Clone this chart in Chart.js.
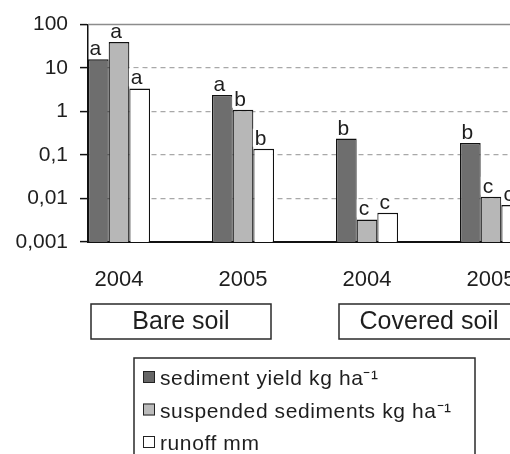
<!DOCTYPE html>
<html>
<head>
<meta charset="utf-8">
<script src="https://cdn.jsdelivr.net/npm/chart.js@4/dist/chart.umd.min.js"></script>
<style>
  html, body { margin: 0; padding: 0; background: #fff; }
  #frame { width: 510px; height: 454px; overflow: hidden; position: relative; }
  canvas { display: block; }
</style>
</head>
<body>
<div id="frame"><canvas id="chart" width="610" height="454"></canvas></div>
<script>
// Years shown under each bar group, and the two treatments that group them
const years = ['2004', '2005', '2004', '2005'];
const treatments = ['Bare soil', 'Covered soil'];

// Series values (log axis)
const sedimentYield      = [16, 2.4, 0.24, 0.19];
const suspendedSediments = [40, 1.1, 0.0033, 0.011];
const runoff             = [3.4, 0.14, 0.0047, 0.0071];

// Significance letters printed above each bar
const sedimentLetters  = ['a', 'a', 'b', 'b'];
const suspendedLetters = ['a', 'b', 'c', 'c'];
const runoffLetters    = ['a', 'b', 'c', 'c'];

// Series names
const seriesNames = ['sediment yield kg ha\u207B\u00B9', 'suspended sediments kg ha\u207B\u00B9', 'runoff mm'];

// Y axis ticks and their labels (decimal comma)
const yTicks      = [0.001, 0.01, 0.1, 1, 10, 100];
const yTickLabels = ['0,001', '0,01', '0,1', '1', '10', '100'];

const FONT = "'Liberation Sans', Arial, sans-serif";
const toPoints = vals => vals.map((v, i) => ({ x: i, y: v }));

// Labels above bars, frame top line, treatment boxes and the legend
const decorations = {
  id: 'decorations',
  afterDatasetsDraw(chart) {
    const { ctx, chartArea: a, scales: { x } } = chart;
    ctx.save();

    // letters over the bars, on a small white backing kept inside the plot
    ctx.font = `21px ${FONT}`;
    ctx.textAlign = 'center';
    ctx.textBaseline = 'alphabetic';
    chart.data.datasets.forEach((ds, di) => {
      chart.getDatasetMeta(di).data.forEach((el, i) => {
        const t = ds.letters[i];
        const tx = el.x - 3, ty = el.y - 4;
        const w = ctx.measureText(t).width;
        const left = Math.max(a.left + 1.5, tx - w / 2 - 2);
        const right = tx + w / 2 + 2;
        ctx.fillStyle = '#fff';
        ctx.fillRect(left, ty - 16, right - left, 18);
        ctx.fillStyle = '#1e1e1e';
        ctx.fillText(t, tx, ty);
      });
    });

    // top frame line
    ctx.strokeStyle = '#8c8c8c';
    ctx.lineWidth = 1.5;
    ctx.beginPath();
    ctx.moveTo(a.left, a.top);
    ctx.lineTo(a.right, a.top);
    ctx.stroke();

    // treatment boxes below the year labels
    ctx.font = `25px ${FONT}`;
    ctx.textBaseline = 'middle';
    ctx.lineWidth = 1.5;
    ctx.strokeStyle = '#2a2a2a';
    treatments.forEach((t, k) => {
      const cx = x.getPixelForValue(2 * k + 0.5);
      const top = a.bottom + 62, h = 35, half = 90;
      ctx.strokeRect(cx - half, top, half * 2, h);
      ctx.fillStyle = '#1e1e1e';
      ctx.fillText(t, cx, top + 18);
    });

    // legend
    const lx = 134, ly = 358, lw = 341;
    ctx.strokeStyle = '#2a2a2a';
    ctx.lineWidth = 1.5;
    ctx.strokeRect(lx, ly, lw, 140);
    ctx.font = `21px ${FONT}`;
    ctx.textAlign = 'left';
    ctx.textBaseline = 'alphabetic';
    if ('letterSpacing' in ctx) ctx.letterSpacing = '0.6px';
    chart.data.datasets.forEach((ds, di) => {
      const base = ly + 27 + di * 32.5;
      ctx.fillStyle = ds.legendFill;
      ctx.fillRect(143, base - 14, 12, 12);
      ctx.lineWidth = 1;
      ctx.strokeStyle = '#222';
      ctx.strokeRect(143.5, base - 13.5, 11, 11);
      ctx.fillStyle = '#1e1e1e';
      ctx.fillText(ds.label, 160, base);
    });
    ctx.restore();
  }
};

new Chart(document.getElementById('chart'), {
  type: 'bar',
  data: {
    datasets: [
      { label: seriesNames[0], data: toPoints(sedimentYield), letters: sedimentLetters,
        backgroundColor: '#6e6e6e', legendFill: '#666666' },
      { label: seriesNames[1], data: toPoints(suspendedSediments), letters: suspendedLetters,
        backgroundColor: '#b7b7b7', legendFill: '#bbbbbb' },
      { label: seriesNames[2], data: toPoints(runoff), letters: runoffLetters,
        backgroundColor: '#ffffff', legendFill: '#ffffff' }
    ]
  },
  options: {
    responsive: false,
    animation: false,
    layout: { padding: { top: 20, left: 0, right: 26, bottom: 0 } },
    datasets: {
      bar: {
        categoryPercentage: 0.5,
        barPercentage: 1,
        borderColor: '#111',
        borderWidth: { top: 1.5, left: 1.2, right: 1.2, bottom: 0 },
        borderSkipped: false
      }
    },
    plugins: { legend: { display: false }, tooltip: { enabled: false } },
    scales: {
      x: {
        type: 'linear',
        offset: false,
        min: -0.25,
        max: 3.75,
        afterBuildTicks: s => { s.ticks = years.map((_, i) => ({ value: i })); },
        afterFit: s => { s.height = 212; },
        grid: { display: false },
        border: { color: '#111', width: 2 },
        ticks: {
          padding: 17,
          autoSkip: false,
          maxRotation: 0,
          color: '#1e1e1e',
          font: { size: 22, family: FONT },
          callback: v => years[v] ?? ''
        }
      },
      y: {
        type: 'logarithmic',
        min: 0.001,
        max: 100,
        afterBuildTicks: s => { s.ticks = yTicks.map(v => ({ value: v })); },
        afterFit: s => { s.width = 88; },
        grid: {
          color: c => (c.tick && (c.tick.value === 100 || c.tick.value === 0.001)) ? 'rgba(0,0,0,0)' : '#a8a8a8',
          lineWidth: 1.2,
          tickColor: '#111',
          tickLength: 8,
          tickWidth: 1.5
        },
        border: { color: '#111', width: 1.5, dash: [5, 4] },
        ticks: {
          padding: 12,
          color: '#1e1e1e',
          font: { size: 21, family: FONT },
          callback: (v, i) => yTickLabels[i]
        }
      }
    }
  },
  plugins: [decorations]
});
</script>
</body>
</html>
